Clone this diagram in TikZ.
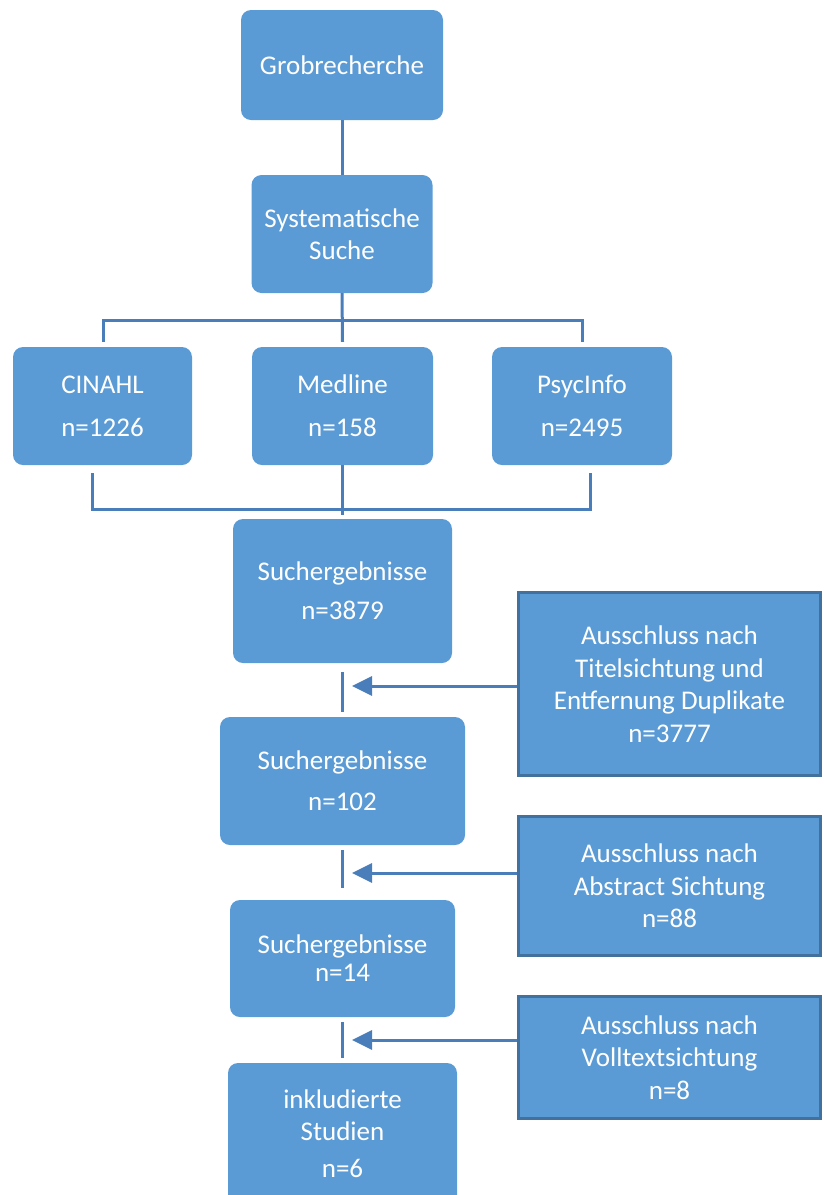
\documentclass[tikz,border=0pt]{standalone}
\usepackage{fontspec}
\setmainfont{Carlito}
\usetikzlibrary{arrows.meta}
\definecolor{boxblue}{HTML}{5B9BD5}
\definecolor{lineblue}{HTML}{4A7EBB}
\definecolor{edgeblue}{HTML}{41719C}
\begin{document}
\begin{tikzpicture}[x=1pt,y=-1pt,
  box/.style={fill=boxblue, rounded corners=10pt, text=white, align=center, inner sep=0pt,
    font=\fontsize{27}{32}\selectfont},
  sidebox/.style={fill=boxblue, draw=edgeblue, line width=3pt, text=white, align=center, inner sep=0pt,
    minimum width=302pt, font=\fontsize{27}{32.5}\selectfont},
  conn/.style={draw=lineblue, line width=3pt},
  arr/.style={conn, -{Triangle[length=20pt,width=19pt]}}]
\useasboundingbox (0,0) rectangle (824,1195);

% main column
\node[box, minimum width=202pt, minimum height=110pt] (grob) at (342,65) {Grobrecherche};
\node[box, minimum width=181pt, minimum height=118pt] (syst) at (342,234) {Systematische\\Suche};
\node[box, minimum width=179pt, minimum height=118pt] (cin) at (102.5,406) {CINAHL\\[11pt]n=1226};
\node[box, minimum width=181pt, minimum height=118pt] (med) at (342.5,406) {Medline\\[11pt]n=158};
\node[box, minimum width=180pt, minimum height=118pt] (psy) at (582,406) {PsycInfo\\[11pt]n=2495};
\node[box, minimum width=219pt, minimum height=144pt] (s1) at (342.5,591) {Suchergebnisse\\[7pt]n=3879};
\node[box, minimum width=245pt, minimum height=128pt] (s2) at (342.5,781) {Suchergebnisse\\[9pt]n=102};
\node[box, minimum width=225pt, minimum height=117pt] (s3) at (342.5,958.5) {Suchergebnisse\\[-4pt]n=14};
\node[box, minimum width=229pt, minimum height=142pt] (s4) at (342.5,1134) {inkludierte\\Studien\\[5pt]n=6};

% side boxes
\node[sidebox, minimum height=183pt] (r1) at (669.5,684) {Ausschluss nach\\Titelsichtung und\\Entfernung Duplikate\\n=3777};
\node[sidebox, minimum height=139pt] (r2) at (669.5,886) {Ausschluss nach\\Abstract Sichtung\\n=88};
\node[sidebox, minimum height=122pt] (r3) at (669.5,1057.5) {Ausschluss nach\\Volltextsichtung\\n=8};

% connectors top
\draw[conn] (grob.south) -- (syst.north);
\coordinate (tl) at (103,320);
\coordinate (tr) at (582,320);
\draw[conn] (syst.south) -- ([yshift=5pt]med.north);
\draw[conn] ([yshift=5pt]cin.north -| tl) -- (tl) -- (tr) -- ([yshift=5pt]psy.north -| tr);

% bottom bracket
\coordinate (bl) at (92,509);
\coordinate (br) at (590,509);
\draw[conn] ([yshift=-8pt]cin.south -| bl) -- (bl) -- (br) -- ([yshift=-8pt]psy.south -| br);
\draw[conn] (med.south) -- ([yshift=4pt]s1.north);

% vertical links between results
\draw[conn] ([yshift=-9pt]s1.south) -- ([yshift=5pt]s2.north);
\draw[conn] ([yshift=-5pt]s2.south) -- ([yshift=12pt]s3.north);
\draw[conn] ([yshift=-5pt]s3.south) -- ([yshift=5pt]s4.north);

% arrows
\coordinate (t1) at (352,686);
\coordinate (t2) at (352,873);
\coordinate (t3) at (352,1040);
\draw[arr] (r1.west |- t1) -- (t1);
\draw[arr] (r2.west |- t2) -- (t2);
\draw[arr] (r3.west |- t3) -- (t3);
\end{tikzpicture}
\end{document}
